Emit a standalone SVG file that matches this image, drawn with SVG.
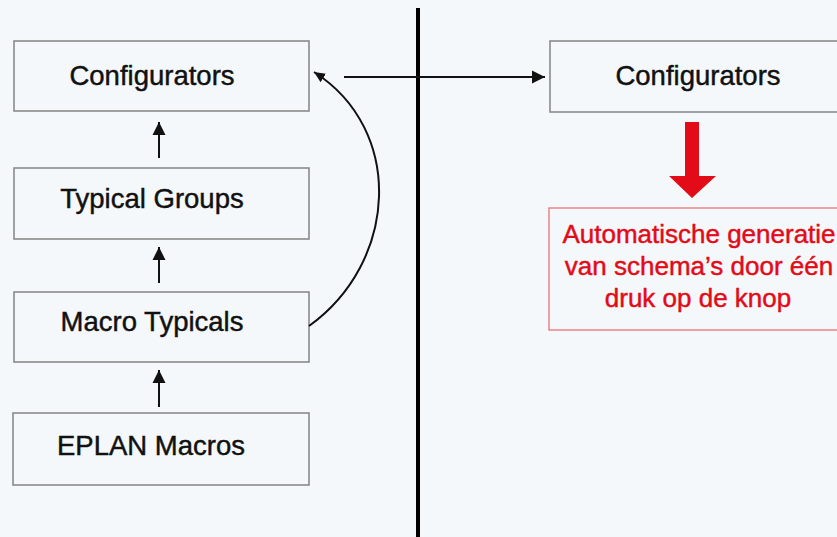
<svg xmlns="http://www.w3.org/2000/svg" width="837" height="537" viewBox="0 0 837 537">
  <defs>
    <style>
      .box { fill: #f5f8fb; stroke: #8a8a8a; stroke-width: 1.6; }
      .lbl { font-family: "Liberation Sans", Arial, sans-serif; font-size: 27.5px; fill: #111; stroke: #111; stroke-width: 0.45; text-anchor: middle; }
      .red { font-family: "Liberation Sans", Arial, sans-serif; font-size: 26px; fill: #e30b17; stroke: #e30b17; stroke-width: 0.45; text-anchor: middle; }
      .conn { fill: none; stroke: #111; stroke-width: 2; }
    </style>
    <marker id="ah" markerUnits="userSpaceOnUse" markerWidth="14" markerHeight="14" viewBox="0 0 14 14" refX="13" refY="7" orient="auto">
      <path d="M0,0.5 L13,7 L0,13.5 Z" fill="#111"/>
    </marker>
    <marker id="ahs" markerUnits="userSpaceOnUse" markerWidth="12" markerHeight="12" viewBox="0 0 12 12" refX="11" refY="6" orient="auto">
      <path d="M0,1 L11,6 L0,11 Z" fill="#111"/>
    </marker>
  </defs>
  <rect width="837" height="537" fill="#f5f8fb"/>

  <g id="divider">
    <line x1="418" y1="8" x2="418" y2="537" stroke="#000" stroke-width="4"/>
  </g>

  <g id="configurators-left">
    <rect class="box" x="14" y="41" width="295" height="70"/>
    <text class="lbl" x="152" y="85">Configurators</text>
  </g>
  <g id="typical-groups">
    <rect class="box" x="14" y="168" width="295" height="71"/>
    <text class="lbl" x="152" y="208">Typical Groups</text>
  </g>
  <g id="macro-typicals">
    <rect class="box" x="14" y="292" width="295" height="70"/>
    <text class="lbl" x="152" y="331">Macro Typicals</text>
  </g>
  <g id="eplan-macros">
    <rect class="box" x="13" y="413" width="296" height="72"/>
    <text class="lbl" x="151" y="455">EPLAN Macros</text>
  </g>
  <g id="configurators-right">
    <rect class="box" x="550" y="41" width="300" height="71"/>
    <text class="lbl" x="698" y="85">Configurators</text>
  </g>
  <g id="automatische-generatie">
    <rect x="549" y="208" width="300" height="122" fill="#f5f8fb" stroke="#ee7a80" stroke-width="1.4"/>
    <text class="red" x="699" y="243">Automatische generatie</text>
    <text class="red" x="699" y="275">van schema’s door één</text>
    <text class="red" x="698" y="307">druk op de knop</text>
  </g>

  <g id="connectors">
    <line class="conn" x1="159" y1="158" x2="159" y2="122" marker-end="url(#ah)"/>
    <line class="conn" x1="159" y1="283" x2="159" y2="247" marker-end="url(#ah)"/>
    <line class="conn" x1="159" y1="407" x2="159" y2="370" marker-end="url(#ah)"/>
    <path class="conn" d="M309,326 C398,262 405,130 314,72" marker-end="url(#ahs)"/>
    <line class="conn" x1="344" y1="77" x2="545" y2="77" marker-end="url(#ah)"/>
    <path d="M685,122 L699,122 L699,176 L716,176 L692,198 L669,176 L685,176 Z" fill="#e30b17"/>
  </g>
</svg>
